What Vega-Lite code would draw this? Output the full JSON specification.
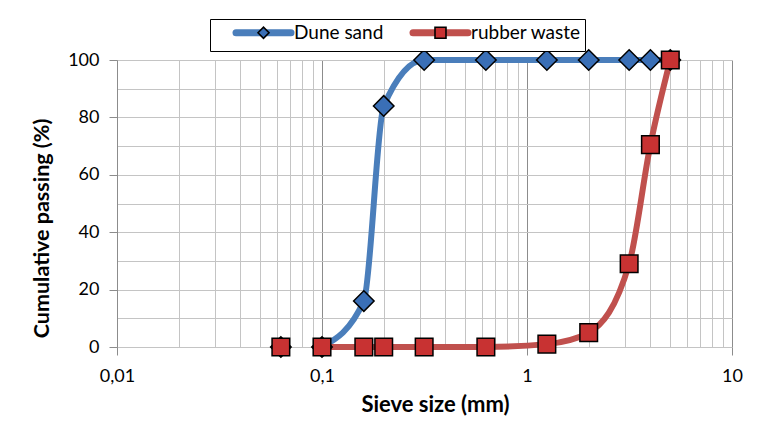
{
  "$schema": "https://vega.github.io/schema/vega-lite/v6.json",
  "width": 615,
  "height": 287,
  "autosize": {"type": "none"},
  "padding": {"left": 117, "top": 60, "right": 29, "bottom": 78},
  "background": "white",
  "config": {
    "view": {"stroke": null},
    "font": "Lato",
    "axis": {"labelFont": "Lato", "titleFont": "Lato", "labelColor": "#000000", "titleColor": "#000000"},
    "legend": {"labelFont": "Lato"}
  },
  "data": {
    "values": [
      {"size": 0.063, "passing": 0, "series": "Dune sand"},
      {"size": 0.1, "passing": 0, "series": "Dune sand"},
      {"size": 0.16, "passing": 16, "series": "Dune sand"},
      {"size": 0.2, "passing": 84, "series": "Dune sand"},
      {"size": 0.315, "passing": 100, "series": "Dune sand"},
      {"size": 0.63, "passing": 100, "series": "Dune sand"},
      {"size": 1.25, "passing": 100, "series": "Dune sand"},
      {"size": 2, "passing": 100, "series": "Dune sand"},
      {"size": 3.15, "passing": 100, "series": "Dune sand"},
      {"size": 4, "passing": 100, "series": "Dune sand"},
      {"size": 5, "passing": 100, "series": "Dune sand"},
      {"size": 0.063, "passing": 0, "series": "rubber waste"},
      {"size": 0.1, "passing": 0, "series": "rubber waste"},
      {"size": 0.16, "passing": 0, "series": "rubber waste"},
      {"size": 0.2, "passing": 0, "series": "rubber waste"},
      {"size": 0.315, "passing": 0, "series": "rubber waste"},
      {"size": 0.63, "passing": 0, "series": "rubber waste"},
      {"size": 1.25, "passing": 1, "series": "rubber waste"},
      {"size": 2, "passing": 5, "series": "rubber waste"},
      {"size": 3.15, "passing": 29, "series": "rubber waste"},
      {"size": 4, "passing": 70.5, "series": "rubber waste"},
      {"size": 5, "passing": 100, "series": "rubber waste"}
    ]
  },
  "encoding": {
    "x": {
      "field": "size",
      "type": "quantitative",
      "title": "Sieve size (mm)",
      "scale": {"type": "log", "domain": [0.01, 10], "nice": false},
      "axis": {
        "values": [0.01, 0.02, 0.03, 0.04, 0.05, 0.06, 0.07, 0.08, 0.09, 0.1, 0.2, 0.3, 0.4, 0.5, 0.6, 0.7, 0.8, 0.9, 1, 2, 3, 4, 5, 6, 7, 8, 9, 10],
        "labelExpr": "datum.value == 0.01 ? '0,01' : datum.value == 0.1 ? '0,1' : datum.value == 1 ? '1' : datum.value == 10 ? '10' : ''",
        "labelOverlap": false,
        "labelFlush": false,
        "labelFontSize": 18,
        "labelPadding": 12,
        "tickSize": 8,
        "tickColor": "#8c8c8c",
        "tickOpacity": {"condition": {"test": "datum.value == 0.01 || datum.value == 0.1 || datum.value == 1 || datum.value == 10", "value": 1}, "value": 0},
        "grid": true,
        "gridColor": {"condition": {"test": "datum.value == 0.01 || datum.value == 0.1 || datum.value == 1 || datum.value == 10", "value": "#8c8c8c"}, "value": "#c4c4c4"},
        "gridWidth": 1,
        "domain": false,
        "titleFontSize": 22,
        "titleFontWeight": "bold",
        "titlePadding": 9,
        "titleX": 318
      }
    },
    "y": {
      "field": "passing",
      "type": "quantitative",
      "title": "Cumulative passing (%)",
      "scale": {"domain": [0, 100], "nice": false},
      "axis": {
        "values": [0, 10, 20, 30, 40, 50, 60, 70, 80, 90, 100],
        "labelExpr": "datum.value % 20 == 0 ? datum.label : ''",
        "labelFontSize": 18,
        "labelPadding": 10,
        "tickSize": 8,
        "tickColor": "#8c8c8c",
        "tickOpacity": {"condition": {"test": "datum.value % 20 == 0", "value": 1}, "value": 0},
        "grid": true,
        "gridColor": "#c4c4c4",
        "domainColor": "#8c8c8c",
        "titleFontSize": 21.5,
        "titleFontWeight": "bold",
        "titlePadding": 14,
        "titleY": 168
      }
    }
  },
  "resolve": {"scale": {"color": "independent", "shape": "independent"}, "legend": {"color": "independent", "shape": "independent"}},
  "layer": [
    {
      "transform": [{"filter": "datum.size >= 0.1"}],
      "mark": {"type": "line", "interpolate": "monotone", "strokeWidth": 6, "strokeCap": "round"},
      "encoding": {
        "color": {
          "field": "series",
          "type": "nominal",
          "scale": {"domain": ["Dune sand", "rubber waste"], "range": ["#4a7ebb", "#c0504d"]},
          "legend": {
            "title": null,
            "orient": "none",
            "direction": "horizontal",
            "legendX": 93,
            "legendY": -41,
            "symbolType": "M-5,0H5",
            "symbolSize": 121,
            "symbolStrokeWidth": 7,
            "symbolOffset": 40,
            "labelFontSize": 19,
            "labelOffset": 21,
            "labelExpr": "datum.label == 'rubber waste' ? datum.label + '      ' : datum.label",
            "columnPadding": 7,
            "padding": 4,
            "strokeColor": "#000000",
            "fillColor": "#ffffff",
            "zindex": 1,
            "encode": {"symbols": {"update": {"strokeCap": {"value": "round"}}}}
          }
        }
      }
    },
    {
      "mark": {"type": "point", "filled": true, "stroke": "#000000", "strokeWidth": 1.5, "opacity": 1},
      "encoding": {
        "color": {
          "field": "series",
          "type": "nominal",
          "scale": {"range": ["#3a6fb6", "#c83232"]},
          "legend": {
            "title": null,
            "orient": "none",
            "direction": "horizontal",
            "legendX": 93,
            "legendY": -41,
            "symbolSize": 121,
            "symbolStrokeColor": "#000000",
            "symbolStrokeWidth": 1.6,
            "symbolOffset": 40,
            "labelFontSize": 19,
            "labelOffset": 21,
            "labelOpacity": 0,
            "columnPadding": 7,
            "padding": 4,
            "zindex": 2,
            "encode": {"symbols": {"update": {"shape": {"signal": "datum.value == 'Dune sand' ? 'M0,-1.25L1.25,0L0,1.25L-1.25,0Z' : 'M-1.25,-1.25H1.25V1.25H-1.25Z'"}}}}
          }
        },
        "shape": {
          "field": "series",
          "type": "nominal",
          "scale": {"range": ["diamond", "square"]},
          "legend": {
            "title": null,
            "orient": "none",
            "direction": "horizontal",
            "legendX": 93,
            "legendY": -41,
            "symbolSize": 121,
            "symbolStrokeColor": "#000000",
            "symbolStrokeWidth": 1.6,
            "symbolOffset": 40,
            "labelFontSize": 19,
            "labelOffset": 21,
            "labelOpacity": 0,
            "columnPadding": 7,
            "padding": 4,
            "zindex": 2,
            "encode": {"symbols": {"update": {"shape": {"signal": "datum.value == 'Dune sand' ? 'M0,-1.25L1.25,0L0,1.25L-1.25,0Z' : 'M-1.25,-1.25H1.25V1.25H-1.25Z'"}}}}
          }
        },
        "size": {
          "field": "series",
          "type": "ordinal",
          "scale": {"range": [420, 310]},
          "legend": null
        }
      }
    }
  ]
}
